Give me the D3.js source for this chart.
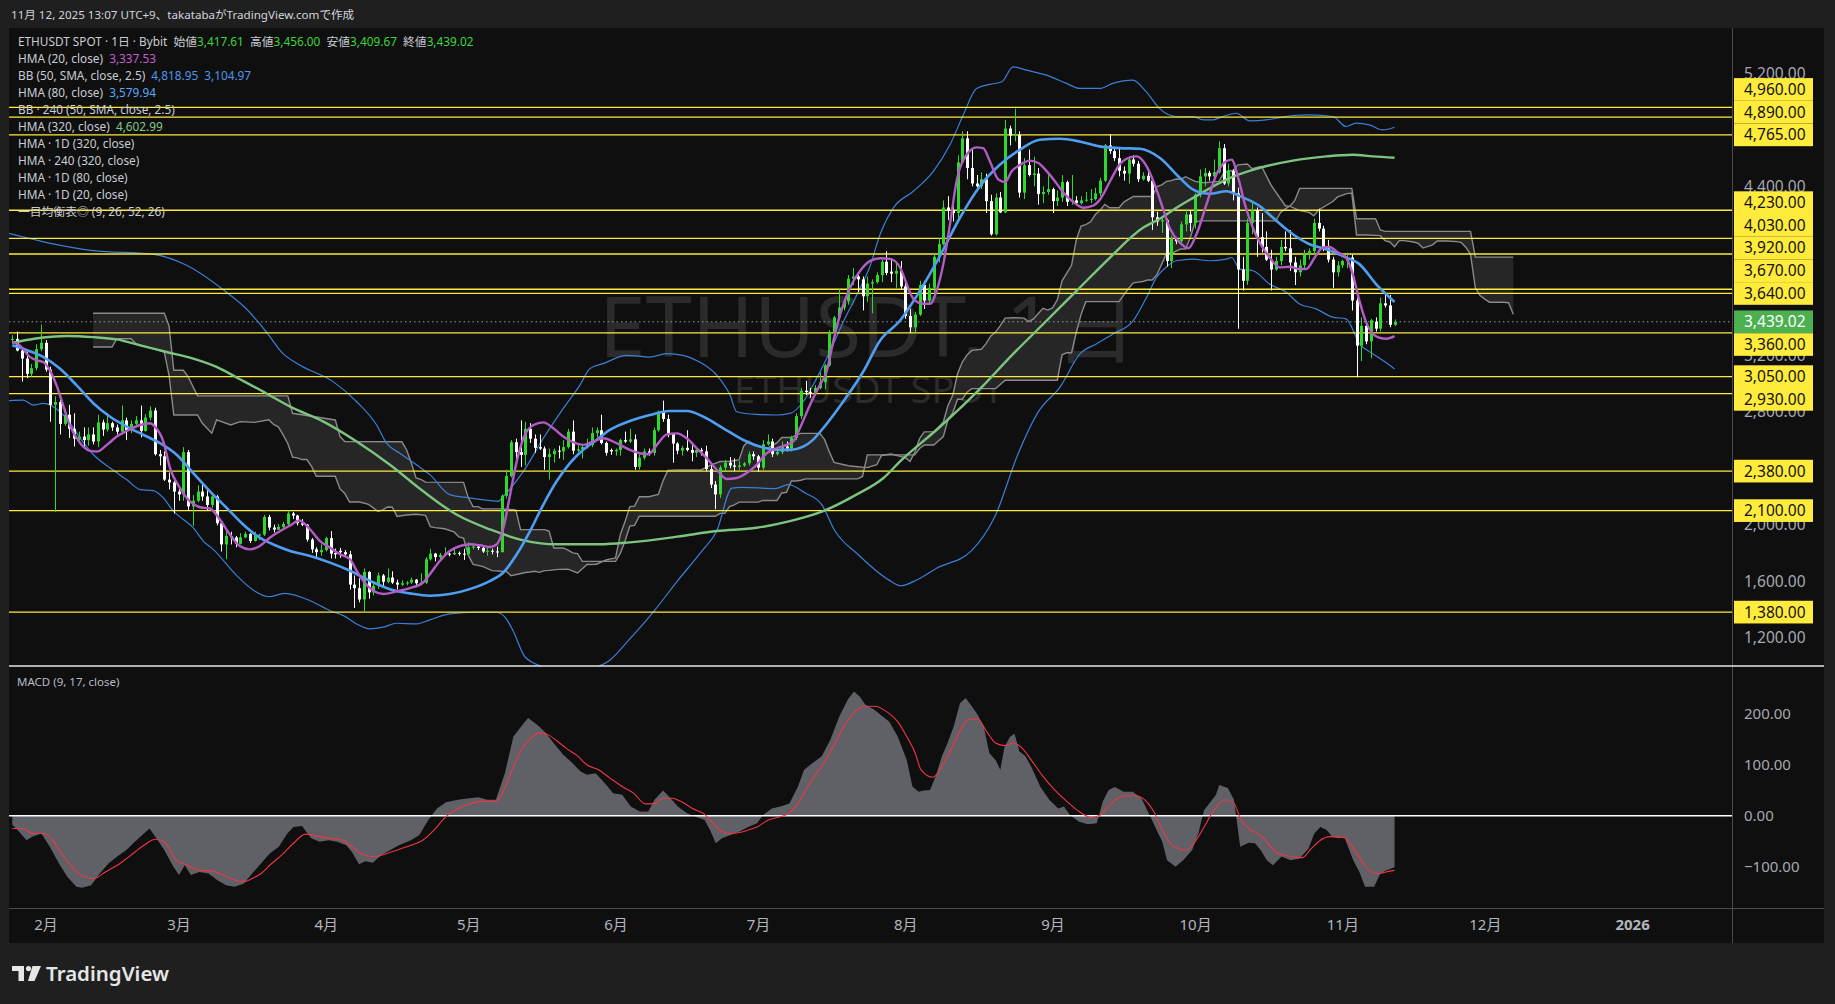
<!DOCTYPE html>
<html><head><meta charset="utf-8">
<script src="https://cdn.jsdelivr.net/npm/d3@7"></script>
<style>body{margin:0;background:#1f1f1f;overflow:hidden}svg{display:block}</style>
</head><body><svg id="c" width="1835" height="1004"></svg>
<script>
// ---------------- DATA ----------------
const startDate = "2025-01-25"; // first candle (day 0)
// daily candles [open, high, low, close]
const candles = [
[3310,3345,3290,3318],[3318,3370,3230,3235],[3235,3250,3015,3178],[3178,3225,3040,3070],[3070,3140,3050,3110],[3110,3280,3095,3245],[3245,3420,3230,3290],
[3290,3310,3085,3100],[3100,3120,2730,2850],[2850,2910,2090,2870],[2870,2890,2640,2715],[2715,2820,2700,2780],[2780,2850,2615,2680],[2680,2790,2555,2610],
[2610,2660,2580,2625],[2625,2690,2540,2600],[2600,2690,2560,2640],[2640,2690,2570,2590],[2590,2780,2550,2725],[2725,2745,2630,2675],[2675,2790,2660,2720],
[2720,2730,2665,2690],[2690,2710,2640,2660],[2660,2845,2650,2740],[2740,2760,2600,2670],[2670,2740,2650,2715],[2715,2770,2700,2740],[2740,2845,2620,2665],
[2665,2785,2660,2760],[2760,2840,2740,2810],[2810,2830,2490,2500],[2500,2530,2420,2485],[2485,2520,2310,2320],[2320,2370,2250,2300],[2300,2310,2080,2235],
[2235,2255,2170,2215],[2215,2550,2170,2515],[2515,2530,2100,2130],[2130,2210,1990,2170],[2170,2280,2160,2235],[2235,2290,2170,2200],[2200,2260,2100,2140],
[2140,2220,2120,2200],[2200,2210,1995,2010],[2010,2020,1810,1860],[1860,1960,1755,1920],[1920,1950,1860,1910],[1910,1920,1840,1865],[1865,1940,1860,1910],
[1910,1950,1905,1935],[1935,1940,1870,1885],[1885,1950,1880,1925],[1925,1935,1890,1930],[1930,2070,1920,2055],[2055,2070,1960,1980],[1980,2000,1945,1965],
[1965,2005,1960,1985],[1985,2020,1970,2005],[2005,2100,1995,2080],[2080,2090,2040,2065],[2065,2070,1995,2010],[2010,2040,1990,2000],[2000,2005,1880,1895],
[1895,1905,1800,1825],[1825,1840,1770,1805],[1805,1860,1780,1820],[1820,1915,1810,1905],[1905,1955,1760,1795],[1800,1830,1760,1790],[1815,1835,1765,1805],
[1805,1820,1770,1790],[1790,1815,1540,1575],[1575,1640,1410,1550],[1550,1620,1450,1470],[1470,1690,1380,1665],[1665,1670,1475,1520],[1520,1590,1500,1565],
[1565,1660,1545,1640],[1640,1650,1560,1595],[1595,1690,1585,1625],[1625,1670,1580,1590],[1590,1610,1540,1575],[1575,1605,1565,1585],[1585,1600,1570,1590],
[1590,1625,1580,1610],[1610,1615,1565,1585],[1585,1655,1570,1590],[1590,1770,1580,1755],[1755,1830,1745,1795],[1795,1800,1740,1770],[1770,1800,1750,1785],
[1785,1840,1780,1795],[1795,1800,1775,1790],[1790,1830,1785,1800],[1800,1810,1780,1795],[1795,1830,1750,1790],[1790,1875,1790,1840],[1840,1865,1825,1845],
[1845,1850,1820,1835],[1835,1845,1800,1810],[1810,1835,1780,1815],[1815,1830,1790,1810],[1810,1845,1770,1805],[1805,2215,1805,2205],[2205,2390,2185,2345],
[2345,2600,2335,2585],[2585,2610,2460,2515],[2515,2740,2410,2495],[2495,2730,2420,2680],[2680,2720,2580,2610],[2610,2640,2510,2545],[2550,2640,2530,2540],
[2540,2555,2390,2480],[2480,2540,2320,2500],[2500,2540,2440,2525],[2525,2560,2470,2520],[2520,2600,2460,2550],[2550,2680,2540,2660],[2660,2740,2500,2525],
[2525,2575,2515,2535],[2535,2560,2470,2550],[2550,2610,2540,2565],[2565,2690,2550,2650],[2650,2690,2620,2670],[2670,2780,2570,2580],[2580,2590,2490,2510],
[2530,2540,2495,2520],[2520,2540,2490,2530],[2530,2610,2490,2600],[2600,2660,2580,2590],[2590,2680,2580,2605],[2605,2640,2390,2410],[2410,2500,2390,2475],
[2475,2540,2460,2520],[2520,2540,2490,2510],[2510,2690,2490,2670],[2670,2810,2660,2800],[2800,2880,2730,2750],[2750,2780,2620,2645],[2645,2650,2440,2575],
[2575,2585,2500,2525],[2525,2560,2490,2545],[2545,2670,2520,2530],[2530,2570,2450,2510],[2510,2550,2480,2530],[2530,2545,2490,2520],[2520,2560,2380,2395],
[2395,2440,2260,2285],[2285,2310,2110,2215],[2215,2420,2190,2405],[2405,2460,2380,2440],[2440,2480,2400,2420],[2420,2470,2380,2410],[2410,2450,2390,2420],
[2420,2445,2410,2435],[2435,2520,2420,2500],[2500,2520,2460,2485],[2485,2495,2375,2405],[2405,2600,2390,2570],[2570,2640,2560,2590],[2590,2610,2480,2500],
[2500,2530,2490,2515],[2515,2590,2500,2555],[2555,2590,2520,2540],[2540,2630,2520,2615],[2615,2790,2600,2770],[2770,2970,2750,2950],[2950,3020,2920,2940],
[2940,2970,2900,2935],[2935,2990,2930,2970],[2970,3080,2960,3010],[3010,3140,2960,3130],[3130,3380,3120,3360],[3360,3480,3340,3470],[3470,3670,3450,3540],
[3540,3600,3520,3585],[3585,3770,3560,3745],[3745,3820,3700,3760],[3760,3780,3650,3740],[3740,3760,3520,3620],[3620,3760,3580,3710],[3710,3740,3500,3720],
[3720,3790,3710,3770],[3770,3880,3720,3865],[3865,3940,3770,3785],[3795,3890,3720,3780],[3780,3860,3680,3800],[3800,3870,3670,3690],[3690,3720,3460,3480],
[3480,3530,3360,3400],[3400,3510,3360,3490],[3490,3730,3480,3700],[3700,3730,3530,3590],[3590,3710,3570,3680],[3680,3920,3650,3900],[3900,4030,3860,3990],
[3990,4300,3980,4250],[4250,4330,4160,4230],[4230,4330,4150,4210],[4210,4620,4150,4570],[4570,4790,4560,4740],[4740,4790,4450,4530],[4530,4670,4400,4420],
[4420,4480,4390,4400],[4400,4500,4380,4450],[4450,4490,4210,4295],[4295,4340,4050,4060],[4060,4350,4050,4320],[4320,4360,4210,4215],[4215,4870,4210,4810],
[4810,4830,4690,4760],[4760,4950,4720,4765],[4765,4790,4320,4355],[4355,4600,4310,4550],[4550,4660,4470,4480],[4480,4610,4400,4490],[4490,4530,4270,4345],
[4345,4400,4280,4360],[4360,4490,4340,4380],[4380,4390,4210,4295],[4295,4370,4260,4320],[4320,4480,4290,4430],[4430,4440,4260,4290],[4290,4480,4270,4300],
[4300,4330,4270,4280],[4280,4330,4270,4300],[4300,4360,4290,4305],[4305,4380,4280,4310],[4310,4390,4300,4350],[4350,4460,4330,4440],[4440,4700,4430,4690],
[4690,4770,4630,4650],[4650,4680,4580,4600],[4600,4670,4470,4510],[4510,4540,4440,4490],[4490,4600,4420,4590],[4590,4620,4540,4560],[4560,4580,4430,4450],
[4450,4500,4440,4475],[4475,4500,4430,4440],[4440,4450,4090,4180],[4180,4220,4120,4150],[4150,4190,4070,4160],[4160,4170,3830,3870],[3870,4050,3820,4030],
[4030,4040,3990,4010],[4010,4150,3990,4130],[4130,4240,4080,4200],[4200,4230,4080,4140],[4140,4350,4100,4340],[4340,4520,4320,4470],[4470,4530,4400,4495],
[4495,4510,4440,4470],[4470,4590,4440,4500],[4500,4720,4490,4670],[4670,4700,4410,4420],[4420,4560,4400,4510],[4510,4520,4300,4350],[4350,4390,3390,3810],
[3810,3900,3660,3730],[3730,4170,3700,4140],[4140,4290,4060,4230],[4230,4250,3900,4040],[4040,4210,3930,3970],[3970,4080,3870,3880],[3880,3950,3660,3810],
[3810,3900,3800,3870],[3870,4020,3840,3970],[3970,4080,3940,3960],[3960,4090,3800,3860],[3860,3900,3700,3790],[3790,3880,3760,3840],[3840,3950,3820,3920],
[3920,3960,3880,3940],[3940,4170,3920,4140],[4140,4240,4080,4100],[4100,4120,3940,3960],[3960,4020,3860,3880],[3880,3900,3680,3790],[3790,3870,3760,3840],
[3840,3880,3820,3870],[3870,3930,3820,3895],[3895,3915,3520,3590],[3590,3610,3045,3270],[3270,3470,3160,3410],[3410,3430,3280,3300],[3300,3460,3180,3450],
[3440,3470,3370,3390],[3390,3610,3370,3570],[3570,3640,3540,3555],[3555,3630,3400,3417.61],[3417.61,3456,3409.67,3439.02]
];
// indicator readings [dayOffset, value]
const hma20 = [[0,3295],[1.6,3272],[3.7,3190],[5.1,3166],[6.5,3154],[7.9,3095],[9.3,2990],[10.7,2848],[12.1,2707],[14.3,2578],[16.4,2524],[17.8,2519],[19.9,2566],[22,2625],[24.1,2665],[26.9,2707],[29,2719],[30,2696],[31.8,2590],[33.2,2402],[35.3,2260],[37.4,2166],[39.5,2124],[41.6,2115],[43.7,2037],[45.8,1931],[47.9,1849],[50,1825],[52.1,1849],[54.2,1908],[56.4,1955],[58.5,1995],[60.4,2030],[62.7,1966],[64.8,1884],[66.9,1837],[69,1790],[71.1,1755],[72.5,1673],[73.9,1602],[76,1531],[78.1,1508],[80.9,1527],[83.7,1550],[86.5,1590],[87.9,1649],[90,1743],[92.1,1814],[94.3,1849],[96.4,1861],[98.5,1854],[100.6,1842],[102,1861],[103.4,1978],[104.8,2213],[106.2,2449],[107.6,2613],[109.7,2707],[111.8,2726],[113.9,2684],[116,2625],[118.1,2585],[120.2,2566],[122.3,2590],[124.4,2613],[127.2,2578],[130,2531],[132.1,2507],[133.9,2500],[135.7,2566],[137.8,2641],[139.9,2648],[142,2613],[144.1,2542],[146.2,2472],[148.3,2390],[150.4,2324],[152.5,2331],[154.6,2366],[156.7,2425],[158.8,2507],[160.9,2542],[163,2566],[164.4,2590],[165.8,2684],[167.9,2848],[170,2989],[171.4,3083],[172.8,3295],[174.2,3483],[176.4,3683],[178.5,3801],[180.6,3871],[182.7,3890],[184.8,3885],[186.9,3824],[188.3,3707],[189.7,3601],[191.8,3566],[193.2,3566],[194.6,3660],[196,3848],[197.4,4130],[198.8,4436],[200.9,4624],[203,4676],[204.4,4671],[205.8,4577],[207.6,4448],[209,4431],[210.4,4506],[212.2,4553],[214.2,4582],[216,4565],[217.8,4506],[219.5,4436],[221.3,4354],[223.4,4288],[225.5,4248],[227.6,4264],[229,4307],[231.1,4436],[233.2,4558],[235.3,4605],[236.7,4612],[238.1,4577],[239.5,4495],[240.9,4377],[242.3,4236],[243.7,4100],[245.8,4001],[247.6,3961],[249.3,4060],[251.4,4271],[253.5,4483],[255.3,4572],[256.7,4589],[258.1,4459],[259.5,4271],[260.9,4130],[262.6,4001],[264.7,3895],[266.8,3825],[268.9,3829],[271,3813],[272.4,3813],[274.2,3895],[275.9,3966],[277.3,3970],[279.1,3930],[280.8,3895],[282.2,3777],[283.6,3589],[285,3437],[286.4,3354],[287.8,3326],[289.3,3319],[291,3337.53]];
const hma80 = [[0,3272],[3.2,3236],[6.5,3190],[10,3107],[13.5,2990],[17.1,2860],[20.6,2766],[24.1,2696],[27.6,2637],[31.1,2578],[34.6,2496],[38.1,2366],[41.6,2237],[45.1,2120],[48.6,2002],[52.1,1908],[55.7,1849],[58.5,1814],[62.7,1778],[66.9,1731],[71.1,1673],[75.3,1602],[79.5,1543],[83.7,1513],[87.9,1496],[92.1,1508],[96.3,1543],[100.6,1602],[103.4,1661],[106.2,1790],[109,1955],[111.8,2143],[114.6,2308],[117.4,2437],[120.2,2531],[123,2601],[125.8,2672],[130,2735],[134.2,2778],[138.4,2806],[142,2806],[145.5,2766],[149.7,2684],[153.9,2601],[158.1,2547],[160.9,2531],[163.7,2531],[166.5,2554],[168.5,2600],[170.7,2684],[174.9,2872],[179.1,3083],[182.7,3307],[186.9,3448],[191.1,3660],[195.3,3907],[199.5,4177],[203.7,4401],[207.9,4553],[212.1,4659],[216.3,4730],[220.5,4737],[224.7,4718],[228.9,4683],[233.1,4671],[237.4,4666],[241.6,4601],[245.8,4460],[248.6,4377],[252.1,4347],[255.6,4365],[258.4,4330],[262.6,4260],[265.4,4177],[269.6,4060],[273.1,3989],[276.6,3954],[280.8,3895],[283.6,3848],[287.1,3707],[291,3579.94]];
const hma320 = [[0,3290],[4.6,3319],[11.6,3338],[17.1,3330],[22,3314],[26.9,3272],[32.5,3225],[38.1,3178],[43,3119],[47.9,3032],[53.5,2931],[58.5,2837],[65.5,2731],[72.5,2590],[79.5,2425],[86.5,2237],[93.5,2072],[100.6,1966],[107.6,1889],[114.6,1861],[123.7,1861],[130,1875],[140,1915],[148.3,1955],[156.7,1978],[163.7,2025],[170.7,2096],[177.7,2213],[183.4,2331],[186.9,2449],[195.5,2700],[204.5,2990],[210.1,3190],[217.1,3425],[224.1,3660],[231.1,3895],[238.1,4107],[241.6,4170],[245.1,4248],[248.6,4318],[255.6,4448],[262.6,4530],[269.6,4582],[276.6,4612],[282.2,4624],[286.4,4612],[291,4602.99]];
const bbUpper = [[-1,4068],[7.3,4001],[17,3944],[29.5,3919],[36.8,3838],[45.1,3648],[49.3,3530],[53.5,3366],[57,3213],[60.6,3131],[67.6,3013],[72.5,2872],[76.7,2707],[78.8,2578],[81.6,2507],[85.1,2425],[87.9,2355],[92.1,2213],[96.3,2190],[100.6,2171],[102.3,2166],[103.4,2202],[107.6,2378],[111.8,2613],[116,2825],[119.5,2990],[121.6,3107],[124.4,3142],[129.3,3201],[134.2,3189],[137.7,3213],[141.2,3201],[144.7,3154],[148.3,3060],[151.1,2919],[152.5,2801],[156.7,2782],[160.9,2778],[163.7,2789],[166.5,2872],[169.3,3036],[172.1,3225],[174.9,3436],[177.7,3624],[180.6,3836],[182.7,4060],[185.5,4248],[189.7,4365],[193.9,4506],[197.4,4694],[200.2,4906],[203,5094],[205.8,5123],[208.3,5141],[210.7,5247],[213.5,5224],[217.7,5188],[221.9,5130],[224.7,5094],[228.9,5094],[231.7,5130],[235.9,5153],[238.7,5071],[241.5,4953],[243.6,4906],[245.7,4895],[248.6,4895],[250.7,4871],[252.8,4871],[254.2,4887],[257.7,4918],[260.5,4864],[264,4871],[266.8,4887],[269.6,4902],[273.1,4906],[278,4895],[280.8,4824],[282.9,4848],[285.7,4836],[288.5,4800],[291,4818.95]];
const bbLower = [[-1,2880],[2.3,2884],[4.4,2848],[6.5,2860],[8.6,2837],[11.4,2754],[14.3,2613],[17.1,2496],[20.6,2402],[24.1,2319],[26.9,2249],[29.7,2242],[31.8,2190],[33.9,2096],[36,2037],[38.1,1978],[40.2,1884],[42.3,1825],[47.3,1637],[51,1530],[54,1489],[57.3,1513],[62.7,1461],[66.9,1390],[69.7,1355],[72.5,1296],[75.3,1261],[78.1,1273],[80.9,1301],[85.1,1296],[87.9,1325],[92.1,1367],[97.7,1379],[101.9,1379],[104,1332],[105.4,1249],[108,1060],[112,990],[117,960],[121,975],[125.5,1031],[130,1190],[135.4,1400],[140,1600],[145.2,1814],[148.3,1955],[151.5,2260],[153.6,2265],[160.6,2256],[163.4,2284],[166.9,2225],[170.4,2143],[173.2,1955],[178,1790],[184.6,1607],[187.1,1567],[190.5,1610],[194.5,1690],[201.9,1814],[206.9,2061],[211.7,2500],[216,2800],[220.6,2978],[224.8,3213],[228.3,3284],[231.8,3354],[236,3448],[238.8,3613],[240.9,3754],[243,3830],[245.1,3872],[248.6,3883],[252.1,3872],[255.6,3883],[256.7,3895],[258.4,3813],[261.2,3801],[264.7,3707],[268.2,3648],[271,3566],[274.5,3531],[278,3472],[280.8,3460],[283.6,3284],[286.4,3213],[288.5,3166],[291,3104.97]];
// Ichimoku leading spans (drawn 26 bars ahead)
const spanB = [[17,3500],[32,3500],[33,3410],[34,3095],[36,3095],[37,3050],[39,2914],[58,2914],[59,2790],[68,2743],[69,2625],[70,2590],[82,2588],[83,2532],[84,2438],[85,2332],[86,2322],[87,2302],[95,2300],[96,2192],[97,2128],[98,2128],[99,2112],[103,2112],[104,2110],[106,2105],[107,1965],[112,1965],[113,1955],[114,1835],[116,1835],[117,1820],[118,1800],[119,1795],[120,1740],[127,1740],[128,1797],[129,1885],[130,1990],[131,1995],[132,2060],[148,2060],[149,2080],[150,2080],[151,2128],[152,2140],[153,2160],[157,2160],[158,2172],[161,2172],[162,2225],[163,2230],[164,2310],[165,2310],[166,2315],[167,2325],[178,2325],[179,2342],[180,2495],[190,2495],[191,2540],[192,2565],[194,2565],[195,2595],[196,2625],[197,2745],[198,2795],[199,2890],[200,2890],[201,2940],[202,2965],[207,2965],[208,2995],[209,3025],[220,3025],[221,3205],[222,3220],[223,3220],[224,3365],[225,3490],[226,3582],[233,3582],[234,3630],[235,3675],[236,3715],[237,3720],[238,3725],[239,3735],[240,3735],[241,3775],[242,3850],[243,3925],[244,3925],[245,3940],[246,3955],[247,3955],[248,4035],[249,4145],[250,4155],[266,4155],[267,4215],[268,4240],[269,4260],[270,4300],[271,4385],[282,4385],[283,4170],[287,4170],[288,4090],[289,4080],[307,4080],[308,3898],[316,3898]];
const spanA = [[17,3260],[21,3260],[22,3319],[25,3319],[26,3284],[32,3225],[33,3060],[34,2778],[39,2778],[40,2719],[42,2649],[43,2743],[46,2707],[48,2731],[51,2726],[54,2744],[55,2711],[56,2694],[57,2639],[58,2576],[59,2479],[60,2474],[61,2462],[62,2462],[63,2414],[64,2344],[68,2344],[69,2254],[70,2221],[71,2161],[73,2161],[74,2154],[75,2144],[77,2094],[78,2105],[79,2126],[80,2124],[81,2059],[83,2069],[85,2074],[87,2066],[88,1986],[89,1979],[91,1971],[93,1949],[94,1914],[95,1905],[96,1784],[97,1719],[99,1704],[101,1674],[103,1670],[104,1669],[105,1638],[108,1661],[109,1665],[110,1670],[111,1662],[112,1674],[113,1676],[115,1683],[117,1685],[119,1658],[121,1718],[123,1720],[125,1750],[126,1758],[127,1765],[128,1930],[129,2022],[130,2128],[131,2132],[132,2198],[134,2198],[136,2214],[137,2311],[138,2385],[140,2388],[145,2388],[147,2422],[149,2448],[151,2450],[153,2459],[154,2559],[155,2592],[156,2568],[159,2542],[161,2582],[162,2618],[164,2618],[165,2635],[166,2648],[170,2648],[171,2605],[172,2518],[173,2442],[176,2418],[177,2415],[180,2405],[182,2425],[183,2491],[185,2501],[188,2476],[189,2449],[190,2516],[191,2610],[192,2658],[194,2660],[195,2692],[196,2728],[197,2848],[198,2918],[199,3070],[200,3154],[201,3204],[202,3236],[204,3244],[205,3284],[206,3339],[207,3366],[208,3412],[209,3465],[211,3468],[213,3465],[214,3440],[215,3460],[216,3498],[217,3535],[218,3522],[219,3538],[220,3595],[221,3730],[222,3785],[223,3840],[224,4020],[225,4118],[226,4128],[227,4148],[228,4200],[229,4230],[230,4272],[231,4248],[233,4248],[234,4288],[236,4328],[240,4328],[241,4398],[242,4410],[243,4435],[244,4440],[245,4452],[246,4450],[247,4468],[249,4435],[251,4425],[254,4435],[255,4490],[256,4510],[257,4510],[258,4552],[260,4558],[261,4525],[263,4542],[265,4408],[268,4262],[269,4258],[271,4228],[273,4215],[274,4190],[275,4232],[278,4292],[279,4325],[281,4348],[282,4352],[283,4055],[285,4055],[288,4050],[289,4015],[290,4005],[291,3972],[292,4015],[293,4015],[295,4005],[296,3995],[297,3962],[299,3985],[300,4012],[302,4012],[304,4008],[305,4002],[306,3968],[307,3918],[308,3680],[309,3625],[310,3600],[311,3578],[314,3578],[315,3574],[316,3492]];
// MACD (9,17) and signal
const macdLine = [[0,-18],[1.1,-28],[3,-48],[4.2,-41],[6.1,-35],[7.9,-61],[9.8,-93],[11.6,-120],[13.5,-139],[14.7,-141],[16.6,-136],[18.4,-113],[20.3,-93],[22.1,-80],[24,-67],[25.8,-51],[27.7,-35],[28.9,-25],[30.1,-41],[32,-67],[33.9,-100],[35.1,-116],[36.3,-97],[37.6,-116],[39.4,-110],[41.3,-113],[43.1,-126],[45,-136],[46.8,-139],[48.7,-133],[50.5,-113],[52.4,-93],[54.2,-74],[56.1,-61],[57.9,-35],[59.2,-22],[61,-20],[62.9,-44],[64.7,-51],[66.6,-48],[68.4,-51],[70.3,-58],[71.5,-71],[73,-95],[74.3,-89],[75.9,-92],[77.7,-77],[79.6,-67],[81.4,-58],[83.9,-48],[85.7,-38],[87.6,-8],[89.4,14],[91.3,26],[93.8,31],[96.2,34],[98.1,36],[100,31],[101.8,31],[103.7,83],[105.5,155],[107.4,178],[108.6,191],[110.5,178],[112.3,162],[114.2,139],[116,119],[117.9,103],[119.7,86],[121,80],[122.8,83],[124.7,64],[126.5,44],[128.4,41],[130.2,18],[132.1,8],[133.9,8],[135.2,31],[137,49],[138.3,37],[140.1,18],[142,5],[143.8,-2],[145.7,-8],[146.9,-28],[148.1,-54],[149.4,-44],[151.2,-38],[153.1,-31],[154.9,-22],[156.8,-15],[158,1],[159.9,14],[161.7,18],[163.6,24],[165.4,57],[166.7,90],[168.5,103],[170.4,116],[172.2,148],[174.1,194],[175.9,227],[177.2,243],[178.4,233],[179.6,217],[181.5,207],[182.7,198],[184.6,184],[186.4,155],[188.3,109],[189.5,57],[190.8,47],[191.9,49],[193.2,50],[194.4,77],[195.7,116],[196.9,142],[198.2,175],[199.5,220],[200.7,230],[202,214],[203.2,198],[204.5,175],[205.7,122],[207,109],[208,90],[208.9,135],[210.1,155],[211,160],[212,126],[213.3,116],[214.5,96],[216.4,57],[218.3,31],[220.2,14],[221.4,18],[222.7,1],[224.6,-12],[226.4,-17],[228.3,-15],[229.6,28],[230.8,50],[232.1,56],[234,47],[235.9,47],[237.7,34],[239.6,-2],[240.9,-28],[242.1,-51],[243.1,-87],[244.9,-100],[246.5,-87],[248.4,-67],[249.7,-35],[250.9,11],[252.2,26],[253.4,41],[254.1,60],[255.9,54],[257.2,31],[258.5,-61],[260.3,-53],[261.6,-54],[262.8,-67],[264.1,-87],[265.4,-97],[267.2,-80],[269.1,-87],[271,-84],[272.9,-64],[274.1,-35],[275.4,-22],[276.7,-28],[277.9,-41],[279.2,-44],[280.4,-41],[282.3,-87],[283.6,-110],[284.8,-139],[286.7,-139],[288,-113],[289.2,-107],[291,-101]];
const macdSignal = [[0,-25],[2.3,-25],[4.2,-35],[6.7,-35],[8.5,-48],[10.4,-74],[12.8,-103],[15.3,-120],[17.2,-123],[19.6,-110],[22.1,-97],[24.6,-80],[27.7,-58],[30.1,-46],[32,-51],[34.5,-87],[36.9,-97],[39.4,-107],[41.9,-108],[44.4,-116],[46.8,-126],[48.7,-129],[50.5,-123],[52.4,-113],[54.2,-97],[56.7,-77],[59.2,-54],[61.7,-36],[64.1,-40],[66.6,-44],[69.7,-48],[71.5,-61],[74,-77],[76.5,-80],[78.9,-74],[81.4,-66],[83.9,-58],[86.4,-48],[88.8,-28],[91.3,-2],[93.8,14],[96.2,23],[98.7,28],[101.8,28],[103.7,54],[105.5,96],[107.4,132],[109.2,152],[111.1,162],[112.9,158],[114.8,145],[116.6,132],[119.1,116],[121,99],[123.4,90],[125.9,73],[128.4,57],[130.8,44],[133.3,23],[135.2,24],[137,34],[138.9,34],[140.7,28],[143.2,14],[145.7,3],[147.5,-15],[149.4,-31],[151.2,-35],[153.1,-33],[154.9,-28],[156.8,-22],[159.3,-8],[161.7,-2],[163.6,5],[165.4,24],[167.9,64],[170.4,96],[172.8,135],[175.3,178],[177.8,207],[179.6,214],[181.5,214],[184,204],[186.4,184],[188.3,155],[190.1,122],[191.3,90],[193.8,75],[195.7,96],[197.6,129],[199.5,165],[201.3,188],[203.2,189],[205.1,165],[207,142],[208.9,137],[210.8,142],[212.6,132],[214.5,109],[217,77],[219.5,50],[222,28],[224.6,8],[227.1,-3],[229,1],[230.8,18],[232.7,34],[234.6,39],[236.5,39],[238.4,31],[240.3,8],[242.1,-28],[244.6,-61],[247.2,-67],[249,-51],[250.9,-22],[252.8,8],[255.3,31],[257.2,24],[258.5,-5],[260.3,-25],[262.2,-35],[264.1,-51],[266,-71],[268.5,-79],[271.6,-82],[273.5,-64],[275.4,-48],[277.3,-41],[280.4,-43],[282.3,-64],[284.2,-90],[286.1,-110],[288,-113],[289.2,-110],[291,-107]];
// horizontal levels (in the order they were placed)
const levels = [4765,4890,4960,3640,3670,3920,4030,4230,3050,2930,3360,2380,2100,1380];
const lastPrice = 3439.02;
const priceTicks = [5200,4800,4400,4000,3600,3200,2800,2400,2000,1600,1200];
const macdTicks = [200,100,0,-100];
const monthTicks = ["2025-02-01","2025-03-01","2025-04-01","2025-05-01","2025-06-01","2025-07-01","2025-08-01","2025-09-01","2025-10-01","2025-11-01","2025-12-01","2026-01-01"];
const monthLabels = ["2月","3月","4月","5月","6月","7月","8月","9月","10月","11月","12月","2026"];
const headerText = "11月 12, 2025 13:07 UTC+9、takatabaがTradingView.comで作成";
const legendRows = [
  [["ETHUSDT SPOT · 1日 · Bybit  始値","t"],["3,417.61","g"],["  高値","t"],["3,456.00","g"],["  安値","t"],["3,409.67","g"],["  終値","t"],["3,439.02","g"]],
  [["HMA (20, close)  ","t"],["3,337.53","m"]],
  [["BB (50, SMA, close, 2.5)  ","t"],["4,818.95  3,104.97","b"]],
  [["HMA (80, close)  ","t"],["3,579.94","b2"]],
  [["BB · 240 (50, SMA, close, 2.5)","t"]],
  [["HMA (320, close)  ","t"],["4,602.99","gr"]],
  [["HMA · 1D (320, close)","t"]],
  [["HMA · 240 (320, close)","t"]],
  [["HMA · 1D (80, close)","t"]],
  [["HMA · 1D (20, close)","t"]],
  [["一目均衡表◎ (9, 26, 52, 26)","t"]]
];

// ---------------- DRAW ----------------
const FONT = "'Noto Sans','Noto Sans CJK JP',sans-serif";
const C = {t:"#c9ccd3", g:"#3dd63d", m:"#c15fd0", b:"#4f94ec", b2:"#5aa6f5", gr:"#84c887"};
const svg = d3.select("#c").attr("font-family", FONT);
const L = 9, R = 1732, PR = 1824, T = 28, MB = 666, AX = 908, BOT = 943;
const t0 = Date.parse(startDate + "T00:00:00Z");
const dt = n => new Date(t0 + n * 864e5);
const pd = s => new Date(s + "T00:00:00Z");

const x = d3.scaleUtc().domain([pd("2025-02-01"), pd("2026-01-01")]).range([45.55, 1632.05]);
const y = d3.scaleLinear().domain([1200, 5200]).range([637.5, 73.5]);
const ym = d3.scaleLinear().domain([-100, 200]).range([866.8, 713.4]);

svg.append("rect").attr("width", 1835).attr("height", 1004).attr("fill", "#1f1f1f");
svg.append("rect").attr("x", L).attr("y", T).attr("width", PR - L).attr("height", BOT - T).attr("fill", "#0f0f0f");

const defs = svg.append("defs");
defs.append("clipPath").attr("id", "cm").append("rect").attr("x", L).attr("y", T).attr("width", R - L).attr("height", MB - T);
defs.append("clipPath").attr("id", "cd").append("rect").attr("x", L).attr("y", MB).attr("width", R - L).attr("height", AX - MB);

// watermark
const wm = svg.append("g").attr("fill", "#2b2b2b").attr("text-anchor", "middle");
const w1 = wm.append("text").attr("x", 868).attr("y", 357).attr("font-size", 86).text("ETHUSDT, 1日");
const w2 = wm.append("text").attr("x", 869).attr("y", 403).attr("font-size", 36).text("ETHUSDT SPOT");
[[w1, 538, 86], [w2, 270, 36]].forEach(([el, target, fs]) => {
  const len = el.node().getComputedTextLength();
  if (len > 0) el.attr("font-size", fs * target / len);
});

const main = svg.append("g").attr("clip-path", "url(#cm)");
const lineGen = (curve) => d3.line().x(p => x(dt(p[0]))).y(p => y(p[1])).curve(curve);

// ichimoku cloud
const cloudPts = spanB.concat(spanA.slice().reverse());
main.append("path").attr("d", d3.line().x(p => x(dt(p[0]))).y(p => y(p[1]))(cloudPts) + "Z")
  .attr("fill", "#262626").attr("stroke", "none");
[spanA, spanB].forEach(s => main.append("path").attr("d", lineGen(d3.curveLinear)(s))
  .attr("fill", "none").attr("stroke", "#8a8a8a").attr("stroke-width", 1.4));

// Bollinger bands
[bbUpper, bbLower].forEach(s => main.append("path").attr("d", lineGen(d3.curveMonotoneX)(s))
  .attr("fill", "none").attr("stroke", "#3b7fd6").attr("stroke-width", 1.2));

// yellow levels
main.selectAll(".lv").data(levels).enter().append("line")
  .attr("x1", L).attr("x2", R).attr("y1", d => y(d)).attr("y2", d => y(d))
  .attr("stroke", "#ffeb3b").attr("stroke-width", 1.3);

// current price dotted line
main.append("line").attr("x1", L).attr("x2", R).attr("y1", y(lastPrice)).attr("y2", y(lastPrice))
  .attr("stroke", "#9a9a9a").attr("stroke-width", 1).attr("stroke-dasharray", "1.5,3");

// candles
const cw = 3;
const cg = main.append("g");
cg.selectAll("line").data(candles).enter().append("line")
  .attr("x1", (d, i) => Math.round(x(dt(i))) + 0.5).attr("x2", (d, i) => Math.round(x(dt(i))) + 0.5)
  .attr("y1", d => y(d[1])).attr("y2", d => y(d[2]))
  .attr("stroke", d => d[3] >= d[0] ? "#2fd82f" : "#ffffff").attr("stroke-width", 1);
cg.selectAll("rect").data(candles).enter().append("rect")
  .attr("x", (d, i) => Math.round(x(dt(i))) + 0.5 - cw / 2)
  .attr("y", d => y(Math.max(d[0], d[3])))
  .attr("width", cw)
  .attr("height", d => Math.max(1, y(Math.min(d[0], d[3])) - y(Math.max(d[0], d[3]))))
  .attr("fill", d => d[3] >= d[0] ? "#2fd82f" : "#ffffff");

// HMAs
main.append("path").attr("d", lineGen(d3.curveMonotoneX)(hma320)).attr("fill", "none").attr("stroke", "#7cc47f").attr("stroke-width", 2.4);
main.append("path").attr("d", lineGen(d3.curveMonotoneX)(hma80)).attr("fill", "none").attr("stroke", "#4f9ef2").attr("stroke-width", 2.6);
main.append("path").attr("d", lineGen(d3.curveMonotoneX)(hma20)).attr("fill", "none").attr("stroke", "#b35cc6").attr("stroke-width", 2.4);

// MACD pane
const md = svg.append("g").attr("clip-path", "url(#cd)");
md.append("path").attr("d", d3.area().x(p => x(dt(p[0]))).y0(ym(0)).y1(p => ym(p[1])).curve(d3.curveLinear)(macdLine))
  .attr("fill", "#5f6167");
md.append("line").attr("x1", L).attr("x2", R).attr("y1", ym(0)).attr("y2", ym(0)).attr("stroke", "#ffffff").attr("stroke-width", 1.5);
md.append("path").attr("d", d3.line().x(p => x(dt(p[0]))).y(p => ym(p[1])).curve(d3.curveMonotoneX)(macdSignal))
  .attr("fill", "none").attr("stroke", "#f23645").attr("stroke-width", 1.1);
svg.append("text").attr("x", 17).attr("y", 686).attr("font-size", 11.5).attr("fill", "#b8bbc2").text("MACD (9, 17, close)");

// separators
svg.append("line").attr("x1", R + 0.5).attr("x2", R + 0.5).attr("y1", T).attr("y2", BOT).attr("stroke", "#4a4a4a");
svg.append("line").attr("x1", L).attr("x2", PR).attr("y1", AX + 0.5).attr("y2", AX + 0.5).attr("stroke", "#4a4a4a");
svg.append("line").attr("x1", L).attr("x2", PR).attr("y1", MB).attr("y2", MB).attr("stroke", "#e6e6e6").attr("stroke-width", 1.5);

// level label placement (collision avoidance, current price label fixed)
const LH = 22.7;
const placed = [y(lastPrice)];
const lvPos = levels.map(v => {
  const ty = y(v);
  const free = c => placed.every(p => Math.abs(p - c) >= LH - 0.01);
  let best = ty;
  if (!free(ty)) {
    const cands = [];
    placed.forEach(p => cands.push(p - LH, p + LH));
    best = cands.filter(free).sort((a, b) => Math.abs(a - ty) - Math.abs(b - ty))[0];
  }
  placed.push(best);
  return best;
});

// price axis: tick labels that sit fully under a level label are hidden (as in the reference)
const shownTicks = priceTicks.filter(v => placed.every(p => Math.abs(p - y(v)) >= 8));
const pa = svg.append("g").attr("transform", `translate(1744,0)`)
  .call(d3.axisRight(y).tickValues(shownTicks).tickFormat(d3.format(",.2f")).tickSize(0).tickPadding(0));
pa.select(".domain").remove();
pa.selectAll("text").attr("fill", "#a6a9b1").attr("font-size", 15.5).attr("font-family", FONT);

const ma = svg.append("g").attr("transform", `translate(1744,0)`)
  .call(d3.axisRight(ym).tickValues(macdTicks).tickFormat(d3.format(",.2f")).tickSize(0).tickPadding(0));
ma.select(".domain").remove();
ma.selectAll("text").attr("fill", "#a6a9b1").attr("font-size", 15).attr("font-family", FONT);

// time axis
const ta = svg.append("g").attr("transform", `translate(0,${AX})`)
  .call(d3.axisBottom(x).tickValues(monthTicks.map(pd)).tickFormat((d, i) => monthLabels[i]).tickSize(0).tickPadding(11));
ta.select(".domain").remove();
ta.selectAll("text").attr("fill", "#b2b5bd").attr("font-size", 15).attr("font-family", FONT)
  .attr("font-weight", (d, i) => monthLabels[i] === "2026" ? 700 : 400);

const lg = svg.append("g");
levels.forEach((v, i) => {
  lg.append("rect").attr("x", 1734).attr("y", lvPos[i] - LH / 2).attr("width", 79).attr("height", LH).attr("fill", "#ffeb3b");
  lg.append("text").attr("x", 1744).attr("y", lvPos[i]).attr("dy", "0.35em").attr("font-size", 15.5)
    .attr("fill", "#131313").text(d3.format(",.2f")(v));
});
lg.append("rect").attr("x", 1734).attr("y", y(lastPrice) - LH / 2).attr("width", 79).attr("height", LH).attr("fill", "#4caf50");
lg.append("text").attr("x", 1744).attr("y", y(lastPrice)).attr("dy", "0.35em").attr("font-size", 15.5)
  .attr("fill", "#ffffff").text(d3.format(",.2f")(lastPrice));

// header + legend
svg.append("text").attr("x", 11).attr("y", 19).attr("font-size", 11.6).attr("fill", "#d1d4dc").text(headerText);
const leg = svg.append("g").attr("font-size", 11.8);
legendRows.forEach((row, i) => {
  const tx = leg.append("text").attr("x", 18).attr("y", 46 + i * 17).attr("xml:space", "preserve").style("white-space", "pre");
  row.forEach(([s, c]) => tx.append("tspan").attr("fill", C[c]).text(s));
});

// TradingView logo
const logo = svg.append("g").attr("fill", "#e6e6e6");
logo.append("path").attr("d", "M12,966 H24 V981 H18.5 V971 H12 Z");
logo.append("circle").attr("cx", 28.5).attr("cy", 968.6).attr("r", 2.6);
logo.append("path").attr("d", "M32.5,966 H41 L34.5,981 H28 Z");
logo.append("text").attr("x", 46).attr("y", 981).attr("font-size", 20.5).attr("font-weight", 600).text("TradingView");
</script>
</body></html>
